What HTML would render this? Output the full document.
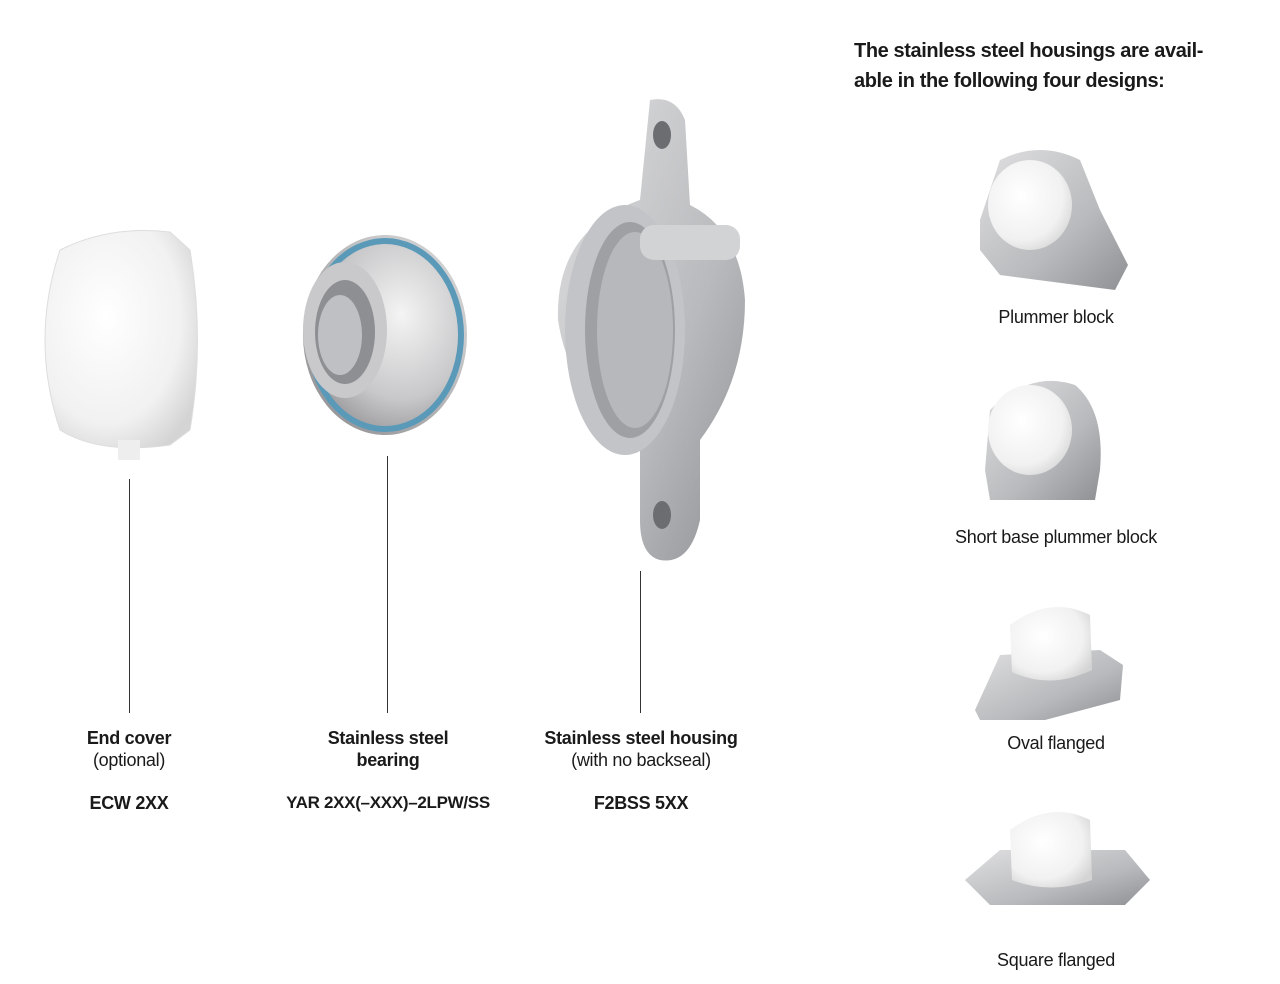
<!DOCTYPE html>
<html><head><meta charset="utf-8"><style>
html,body{margin:0;padding:0;background:#fff;}
body{width:1280px;height:984px;position:relative;overflow:hidden;font-family:"Liberation Sans",sans-serif;color:#1a1a1a;}
.t{position:absolute;font-size:18px;line-height:22px;text-align:center;white-space:nowrap;letter-spacing:-0.3px;}
.b{font-weight:bold;}
.l{position:absolute;width:1px;background:#333;}
</style></head><body>
<svg width="1280" height="984" style="position:absolute;left:0;top:0">
<defs>
<radialGradient id="wh" cx="40%" cy="40%" r="70%"><stop offset="0" stop-color="#fff"/><stop offset="0.7" stop-color="#f1f1f1"/><stop offset="1" stop-color="#d4d4d4"/></radialGradient>
<linearGradient id="gr" x1="0" y1="0" x2="1" y2="1"><stop offset="0" stop-color="#e0e0e2"/><stop offset="0.6" stop-color="#b9babd"/><stop offset="1" stop-color="#8e9094"/></linearGradient>
<radialGradient id="st" cx="60%" cy="40%" r="70%"><stop offset="0" stop-color="#f4f4f4"/><stop offset="0.6" stop-color="#c8c8ca"/><stop offset="1" stop-color="#8a8a8e"/></radialGradient>
</defs>
<!-- end cover -->
<path d="M60 250 Q110 225 170 232 L190 250 Q205 340 190 430 L170 445 Q100 455 60 430 Q30 340 60 250Z" fill="url(#wh)" stroke="#ddd"/>
<rect x="118" y="440" width="22" height="20" fill="#eee"/>
<!-- bearing -->
<ellipse cx="385" cy="335" rx="82" ry="100" fill="url(#st)"/>
<ellipse cx="385" cy="335" rx="76" ry="94" fill="none" stroke="#5a9ab8" stroke-width="6"/>
<ellipse cx="345" cy="330" rx="42" ry="68" fill="#c9c9cc"/>
<ellipse cx="345" cy="332" rx="30" ry="52" fill="#8e8f93"/>
<ellipse cx="340" cy="335" rx="22" ry="40" fill="#bfc0c3"/>
<!-- housing -->
<path d="M650 100 Q675 95 685 120 L690 205 Q740 230 745 300 Q745 380 700 440 L700 520 Q690 565 660 560 Q640 555 640 520 L640 440 Q570 400 558 320 Q555 230 640 200 Z" fill="url(#gr)"/>
<ellipse cx="625" cy="330" rx="60" ry="125" fill="#c3c4c7"/>
<ellipse cx="630" cy="330" rx="45" ry="108" fill="#9fa0a4"/>
<ellipse cx="635" cy="330" rx="38" ry="98" fill="#b7b8bb"/>
<rect x="640" y="225" width="100" height="35" rx="14" fill="#d2d3d5"/>
<ellipse cx="662" cy="135" rx="9" ry="14" fill="#6c6d71"/>
<ellipse cx="662" cy="515" rx="9" ry="14" fill="#6c6d71"/>
<!-- plummer -->
<path d="M980 220 L1000 160 Q1040 140 1080 160 L1100 210 L1128 265 L1115 290 L1000 275 L980 250Z" fill="url(#gr)"/>
<ellipse cx="1030" cy="205" rx="42" ry="45" fill="url(#wh)"/>
<!-- short base -->
<path d="M985 470 L990 410 Q1030 370 1075 385 Q1105 410 1100 470 L1095 500 L990 500Z" fill="url(#gr)"/>
<ellipse cx="1030" cy="430" rx="42" ry="45" fill="url(#wh)"/>
<!-- oval -->
<path d="M975 710 L1000 655 L1100 650 L1123 665 L1120 700 L1045 720 L980 720Z" fill="url(#gr)"/>
<path d="M1010 625 Q1050 595 1090 615 L1092 670 Q1050 690 1012 672Z" fill="url(#wh)"/>
<!-- square -->
<path d="M965 880 L1000 850 L1125 850 L1150 880 L1125 905 L990 905Z" fill="url(#gr)"/>
<path d="M1010 830 Q1050 800 1090 820 L1092 880 Q1050 895 1012 880Z" fill="url(#wh)"/>
</svg>
<div class="l" style="left:129px;top:479px;height:234px"></div>
<div class="l" style="left:387px;top:456px;height:257px"></div>
<div class="l" style="left:640px;top:571px;height:142px"></div>
<div class="t" style="left:29px;width:200px;top:727px"><span class="b">End cover</span><br>(optional)</div>
<div class="t b" style="left:29px;width:200px;top:792px">ECW 2XX</div>
<div class="t b" style="left:238px;width:300px;top:727px">Stainless steel<br>bearing</div>
<div class="t b" style="left:238px;width:300px;top:792px;font-size:17px">YAR 2XX(–XXX)–2LPW/SS</div>
<div class="t" style="left:491px;width:300px;top:727px"><span class="b">Stainless steel housing</span><br>(with no backseal)</div>
<div class="t b" style="left:491px;width:300px;top:792px">F2BSS 5XX</div>
<div class="t b" style="left:854px;top:36px;text-align:left;font-size:20px;line-height:30px;letter-spacing:-0.4px">The stainless steel housings are avail-<br>able in the following four designs:</div>
<div class="t" style="left:906px;width:300px;top:306px">Plummer block</div>
<div class="t" style="left:906px;width:300px;top:526px">Short base plummer block</div>
<div class="t" style="left:906px;width:300px;top:732px">Oval flanged</div>
<div class="t" style="left:906px;width:300px;top:949px">Square flanged</div>
</body></html>
